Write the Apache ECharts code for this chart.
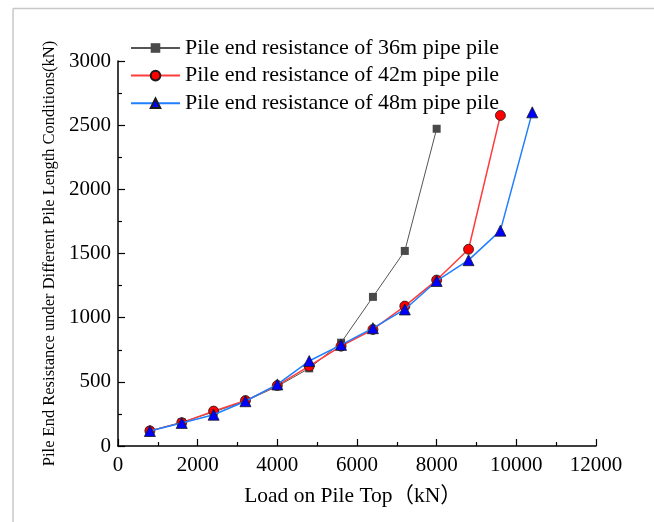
<!DOCTYPE html>
<html>
<head>
<meta charset="utf-8">
<script src="https://cdn.jsdelivr.net/npm/echarts@6/dist/echarts.min.js"></script>
<style>
  html, body { margin: 0; padding: 0; background: #ffffff; }
  #chart { width: 654px; height: 522px; }
</style>
</head>
<body>
<div id="chart"></div>
<script>
// Load applied at the pile top (kN)
const loads36 = [800, 1600, 2400, 3200, 4000, 4800, 5600, 6400, 7200, 8000];
const loads42 = [800, 1600, 2400, 3200, 4000, 4800, 5600, 6400, 7200, 8000, 8800, 9600];
const loads48 = [800, 1600, 2400, 3200, 4000, 4800, 5600, 6400, 7200, 8000, 8800, 9600, 10400];

// Pile end resistance (kN) for each pile length
const resist36 = [118, 185, 265, 350, 465, 605, 805, 1162, 1520, 2472];
const resist42 = [118, 182, 272, 354, 472, 622, 778, 908, 1090, 1293, 1533, 2576];
const resist48 = [117, 180, 244, 349, 480, 662, 788, 918, 1064, 1286, 1448, 1678, 2600];

const seriesNames = [
  'Pile end resistance of 36m pipe pile',
  'Pile end resistance of 42m pipe pile',
  'Pile end resistance of 48m pipe pile'
];

const xTitle = 'Load on Pile Top（kN）';
const yTitle = 'Pile End Resistance under Different Pile Length Conditions(kN)';

const SERIF = "'Liberation Serif', 'Times New Roman', 'Noto Sans CJK SC', serif";

function pairs(xs, ys) {
  return xs.map((x, i) => [x, ys[i]]);
}

// plain integers, no thousands separators
const plain = v => String(v);

const chart = echarts.init(document.getElementById('chart'), null, { renderer: 'canvas' });

const axisCommon = {
  axisLine: { show: true, onZero: false, lineStyle: { color: '#000', width: 1.5 } },
  axisTick: { show: true, inside: true, length: 7, lineStyle: { color: '#000', width: 1.2 } },
  minorTick: { show: true, splitNumber: 2, length: 4, lineStyle: { color: '#000', width: 1.2 } },
  splitLine: { show: false }
};

chart.setOption({
  animation: false,
  backgroundColor: '#ffffff',
  grid: { left: 118, right: 58, top: 61, bottom: 76, containLabel: false },
  graphic: [
    { type: 'line', shape: { x1: 13, y1: 8.5, x2: 654, y2: 8.5 }, style: { stroke: '#c8c8c8', lineWidth: 1.5 }, silent: true },
    { type: 'line', shape: { x1: 13, y1: 8.5, x2: 13, y2: 522 }, style: { stroke: '#c8c8c8', lineWidth: 1.5 }, silent: true }
  ],
  legend: {
    orient: 'vertical',
    left: 130,
    top: 37,
    padding: 0,
    itemGap: 5.6,
    itemWidth: 49,
    itemHeight: 12,
    textStyle: { color: '#000', fontFamily: SERIF, fontSize: 22 },
    data: seriesNames
  },
  xAxis: Object.assign({}, axisCommon, {
    type: 'value',
    min: 0,
    max: 12000,
    interval: 2000,
    name: xTitle,
    nameLocation: 'middle',
    nameGap: 40,
    nameTextStyle: { color: '#000', fontFamily: SERIF, fontSize: 21.5, padding: [0, 8, 0, 0] },
    axisLabel: { color: '#000', fontFamily: SERIF, fontSize: 21, margin: 9, formatter: plain }
  }),
  yAxis: Object.assign({}, axisCommon, {
    type: 'value',
    min: 0,
    max: 3000,
    interval: 500,
    name: yTitle,
    nameLocation: 'middle',
    nameRotate: 90,
    nameGap: 53,
    nameTextStyle: { color: '#000', fontFamily: SERIF, fontSize: 16.5 },
    axisLabel: { color: '#000', fontFamily: SERIF, fontSize: 21, margin: 7, formatter: plain }
  }),
  series: [
    {
      name: seriesNames[0],
      type: 'line',
      data: pairs(loads36, resist36),
      symbol: 'rect',
      symbolSize: 8,
      lineStyle: { color: '#555555', width: 1 },
      itemStyle: { color: '#4a4a4a', borderColor: '#4a4a4a', borderWidth: 0 },
      z: 2
    },
    {
      name: seriesNames[1],
      type: 'line',
      data: pairs(loads42, resist42),
      symbol: 'circle',
      symbolSize: 10,
      lineStyle: { color: '#ff3b3b', width: 1.5 },
      itemStyle: { color: '#ff0000', borderColor: '#1a1a1a', borderWidth: 0.8 },
      z: 3
    },
    {
      name: seriesNames[2],
      type: 'line',
      data: pairs(loads48, resist48),
      symbol: 'triangle',
      symbolSize: 11,
      lineStyle: { color: '#1f7fff', width: 1.5 },
      itemStyle: { color: '#0000ff', borderColor: '#1a1a1a', borderWidth: 0.8 },
      z: 4
    }
  ]
});
</script>
</body>
</html>
